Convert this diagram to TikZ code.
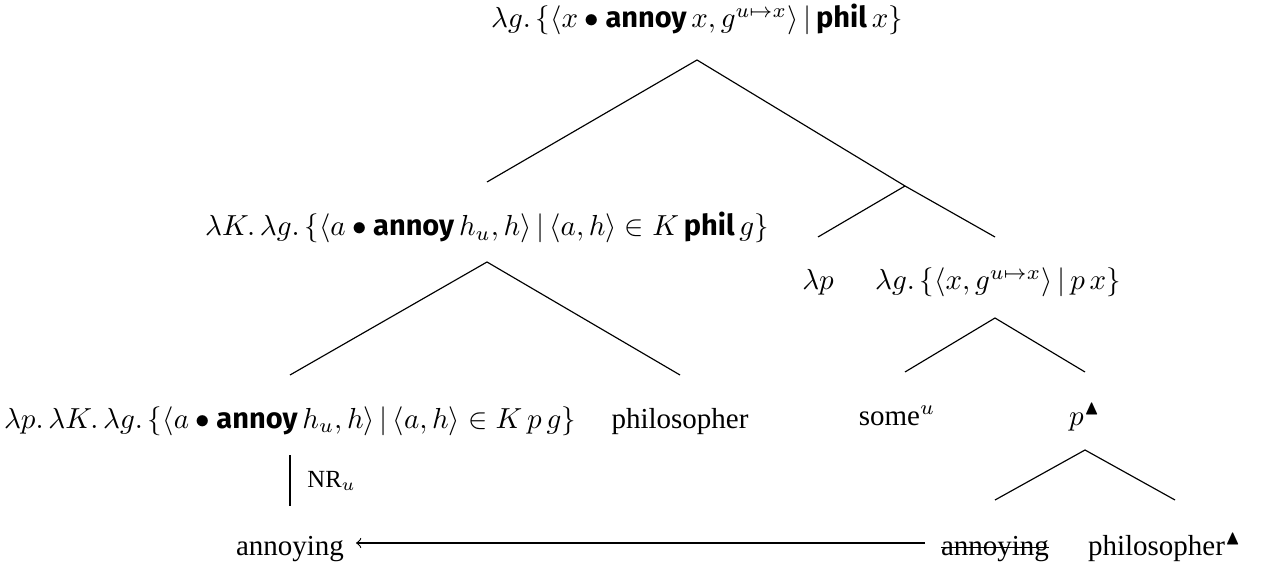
\documentclass[tikz,border=0pt]{standalone}
\usepackage{amssymb}
\usepackage{fontspec}
\setmainfont{Liberation Serif}
\newfontfamily\bsf{Fira Sans}
\newcommand{\an}{\mbox{\bsf\bfseries annoy}}
\newcommand{\ph}{\mbox{\bsf\bfseries phil}}
\tikzset{lbl/.style={anchor=base,inner sep=0pt,outer sep=0pt},
  branch/.style={line width=0.4pt}}
\begin{document}
\begin{tikzpicture}[x=0.345pt,y=-0.345pt]
\useasboundingbox (0,0) rectangle (1264,569);
% labels
\node[lbl] (top) at (697,28) {$\lambda g.\, \{\langle x \bullet \an\, x, g^{u\mapsto x}\rangle \,|\, \ph\, x\}$};
\node[lbl] (lk) at (487,236) {$\lambda K.\,\lambda g.\,\{\langle a\bullet\an\,h_u,h\rangle\,|\,\langle a,h\rangle\in K\,\ph\,g\}$};
\node[lbl] (lp) at (818,290) {$\lambda p$};
\node[lbl] (lg) at (998,290) {$\lambda g.\,\{\langle x, g^{u\mapsto x}\rangle\,|\,p\,x\}$};
\node[lbl] (lpk) at (290,428) {$\lambda p.\,\lambda K.\,\lambda g.\,\{\langle a\bullet\an\,h_u,h\rangle\,|\,\langle a,h\rangle\in K\,p\,g\}$};
\node[lbl] (phil) at (680,428) {philosopher};
\node[lbl] (some) at (897,425) {some$^u$};
\node[lbl] (ptri) at (1085,425) {$p^{\blacktriangle}$};
\node[lbl] (ann) at (290,555) {annoying};
\node[lbl] (anns) at (995,555) {annoying};
\node[lbl] (philt) at (1165,555) {philosopher$^{\blacktriangle}$};
\draw[line width=0.5pt] ([yshift=0.25em]anns.base west) -- ([yshift=0.25em]anns.base east);
% branch points
\coordinate (a0) at (697,60);
\coordinate (a0l) at (487,182);
\coordinate (a1) at (905,186);
\coordinate (a1r) at (995,237);
\coordinate (a1l) at (818,237);
\coordinate (b0) at (487,262);
\coordinate (b0l) at (290,375);
\coordinate (b0r) at (680,375);
\coordinate (c0) at (995,318);
\coordinate (c0l) at (905,372);
\coordinate (c0r) at (1085,372);
\coordinate (d0) at (1085,450);
\coordinate (d0l) at (995,500);
\coordinate (d0r) at (1175,500);
\coordinate (v0) at (290,455);
\coordinate (v1) at (290,506);
\coordinate (arS) at (925,543);
\coordinate (arE) at (356,543);
\draw[branch] (a0l) -- (a0) -- (a1) -- (a1r);
\draw[branch] (a1) -- (a1l);
\draw[branch] (b0l) -- (b0) -- (b0r);
\draw[branch] (c0l) -- (c0) -- (c0r);
\draw[branch] (d0l) -- (d0) -- (d0r);
\draw[branch] (v0) -- node[right=2.5pt,font=\fontsize{8.5}{10}\selectfont] {$\mathrm{NR}_u$} (v1);
\draw[->] (arS) -- (arE);
\end{tikzpicture}
\end{document}
